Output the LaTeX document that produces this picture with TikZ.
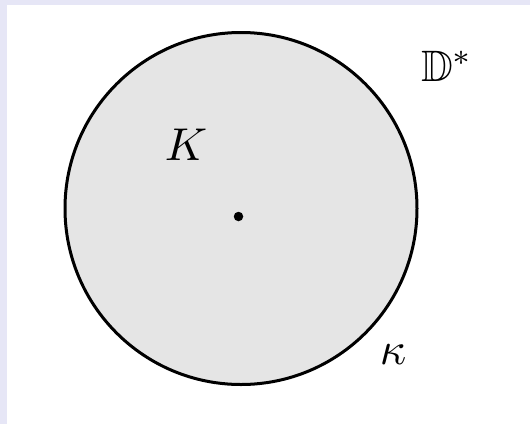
\documentclass[tikz,border=0pt]{standalone}
\usepackage{amssymb}
\definecolor{bandcol}{HTML}{E6E6F6}
\definecolor{disccol}{HTML}{E5E5E5}
\begin{document}
\begin{tikzpicture}[x=1pt,y=-1pt,
  disc/.style={circle,draw=black,fill=disccol,line width=3pt,minimum size=352pt,inner sep=0pt},
  centerdot/.style={circle,fill=black,minimum size=9.5pt,inner sep=0pt},
  lbl/.style={inner sep=0pt}]
\useasboundingbox (0,0) rectangle (530,424);
\fill[white] (0,0) rectangle (530,424);
\fill[bandcol] (0,0) rectangle (530,5);
\fill[bandcol] (0,0) rectangle (7,424);
\node[disc] (D) at (241,208.5) {};
\node[centerdot] (c) at (238.5,216.5) {};
\node[lbl] (K) at (186,145) {\scalebox{4.6}{$K$}};
\node[lbl,anchor=base] (Dstar) at (447,81) {\scalebox{4.4}{$\mathbb{D}^*$}};
\node[lbl] (kappa) at (393,355) {\scalebox{4.6}{$\kappa$}};
\end{tikzpicture}
\end{document}
